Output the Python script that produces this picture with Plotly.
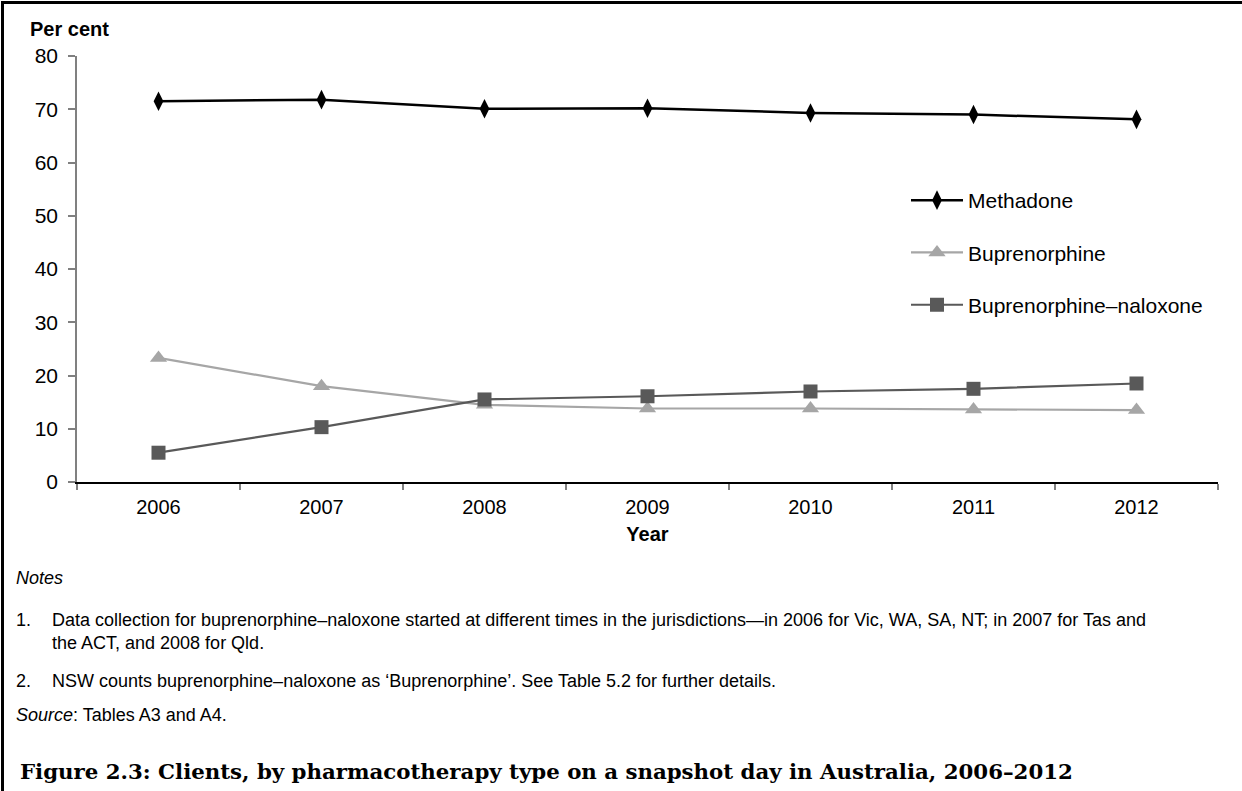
import plotly.graph_objects as go

years = ["2006", "2007", "2008", "2009", "2010", "2011", "2012"]
methadone = [71.5, 71.8, 70.1, 70.2, 69.3, 69.0, 68.1]
buprenorphine = [23.3, 18.0, 14.5, 13.8, 13.8, 13.6, 13.5]
bup_naloxone = [5.5, 10.3, 15.5, 16.1, 17.0, 17.5, 18.5]
y_ticks = [0, 10, 20, 30, 40, 50, 60, 70, 80]

W, H = 1242, 791
L, R, T, B = 77, 1218, 56, 482
FONT = "Liberation Sans, Arial, sans-serif"

def px(xp):
    return (xp - L) / (R - L)

def py(yp):
    return 1 - (yp - T) / (B - T)

fig = go.Figure()
fig.add_trace(go.Scatter(
    x=years, y=methadone, name="Methadone", mode="lines+markers",
    line=dict(color="#000000", width=2.5),
    marker=dict(symbol="diamond-tall", size=14, color="#000000"),
    legendgroup="a"))
fig.add_trace(go.Scatter(
    x=years, y=buprenorphine, name="Buprenorphine", mode="lines+markers",
    line=dict(color="#A6A6A6", width=2.2),
    marker=dict(symbol="triangle-up", size=15, color="#A6A6A6"),
    legendgroup="b"))
fig.add_trace(go.Scatter(
    x=years, y=bup_naloxone, name="Buprenorphine–naloxone", mode="lines+markers",
    line=dict(color="#595959", width=2.2),
    marker=dict(symbol="square", size=14, color="#595959"),
    legendgroup="c"))

fig.update_layout(
    width=W, height=H,
    margin=dict(l=L, r=W - R, t=T, b=H - B),
    paper_bgcolor="white", plot_bgcolor="white",
    font=dict(family=FONT, color="#000000"),
    showlegend=True,
    legend=dict(x=px(906), y=py(180), xanchor="left", yanchor="top",
                font=dict(size=21, family=FONT), tracegroupgap=22,
                bgcolor="rgba(0,0,0,0)", itemwidth=52),
    xaxis=dict(type="category", tickson="boundaries", range=[-0.5, 6.5],
               showgrid=False,
               showline=True, linecolor="#000000", linewidth=1.5,
               ticks="outside", ticklen=6, tickcolor="#808080", tickwidth=1.5,
               tickfont=dict(size=20, family=FONT), ticklabelstandoff=6,
               title=dict(text="<b>Year</b>", font=dict(size=20, family=FONT), standoff=10),
               zeroline=False),
    yaxis=dict(range=[0, 80], tickvals=y_ticks, showgrid=False,
               showline=True, linecolor="#808080", linewidth=1.5,
               ticks="outside", ticklen=7, tickcolor="#808080", tickwidth=1.5,
               tickfont=dict(size=21, family=FONT), ticklabelstandoff=6,
               zeroline=False),
)

annotations = [
    dict(text="<b>Per cent</b>", x=px(28), y=py(29), xanchor="left", yanchor="middle",
         font=dict(size=20)),
    dict(text="<i>Notes</i>", x=px(14), y=py(578), xanchor="left", yanchor="middle",
         font=dict(size=18)),
    dict(text="1.", x=px(14), y=py(620), xanchor="left", yanchor="middle", font=dict(size=18)),
    dict(text="Data collection for buprenorphine–naloxone started at different times in the jurisdictions—in 2006 for Vic, WA, SA, NT; in 2007 for Tas and",
         x=px(50), y=py(620), xanchor="left", yanchor="middle", font=dict(size=18)),
    dict(text="the ACT, and 2008 for Qld.", x=px(50), y=py(643), xanchor="left", yanchor="middle",
         font=dict(size=18)),
    dict(text="2.", x=px(14), y=py(681), xanchor="left", yanchor="middle", font=dict(size=18)),
    dict(text="NSW counts buprenorphine–naloxone as ‘Buprenorphine’. See Table 5.2 for further details.",
         x=px(50), y=py(681), xanchor="left", yanchor="middle", font=dict(size=18)),
    dict(text="<i>Source</i>: Tables A3 and A4.", x=px(14), y=py(715), xanchor="left",
         yanchor="middle", font=dict(size=18)),
    dict(text="<b>Figure 2.3: Clients, by pharmacotherapy type on a snapshot day in Australia, 2006–2012</b>",
         x=px(18), y=py(771), xanchor="left", yanchor="middle",
         font=dict(size=21.3, family="DejaVu Serif, serif")),
]
for a in annotations:
    a.update(xref="paper", yref="paper", showarrow=False)
    if "family" not in a["font"]:
        a["font"]["family"] = FONT
fig.update_layout(annotations=annotations)

# outer frame
fig.add_shape(type="rect", xref="paper", yref="paper",
              x0=px(2.5), x1=px(1260), y0=py(820), y1=py(2.5),
              line=dict(color="#000000", width=3), layer="above")

fig.write_html("out.html", config={"displayModeBar": False},
               post_script="document.body.style.margin='0';")
